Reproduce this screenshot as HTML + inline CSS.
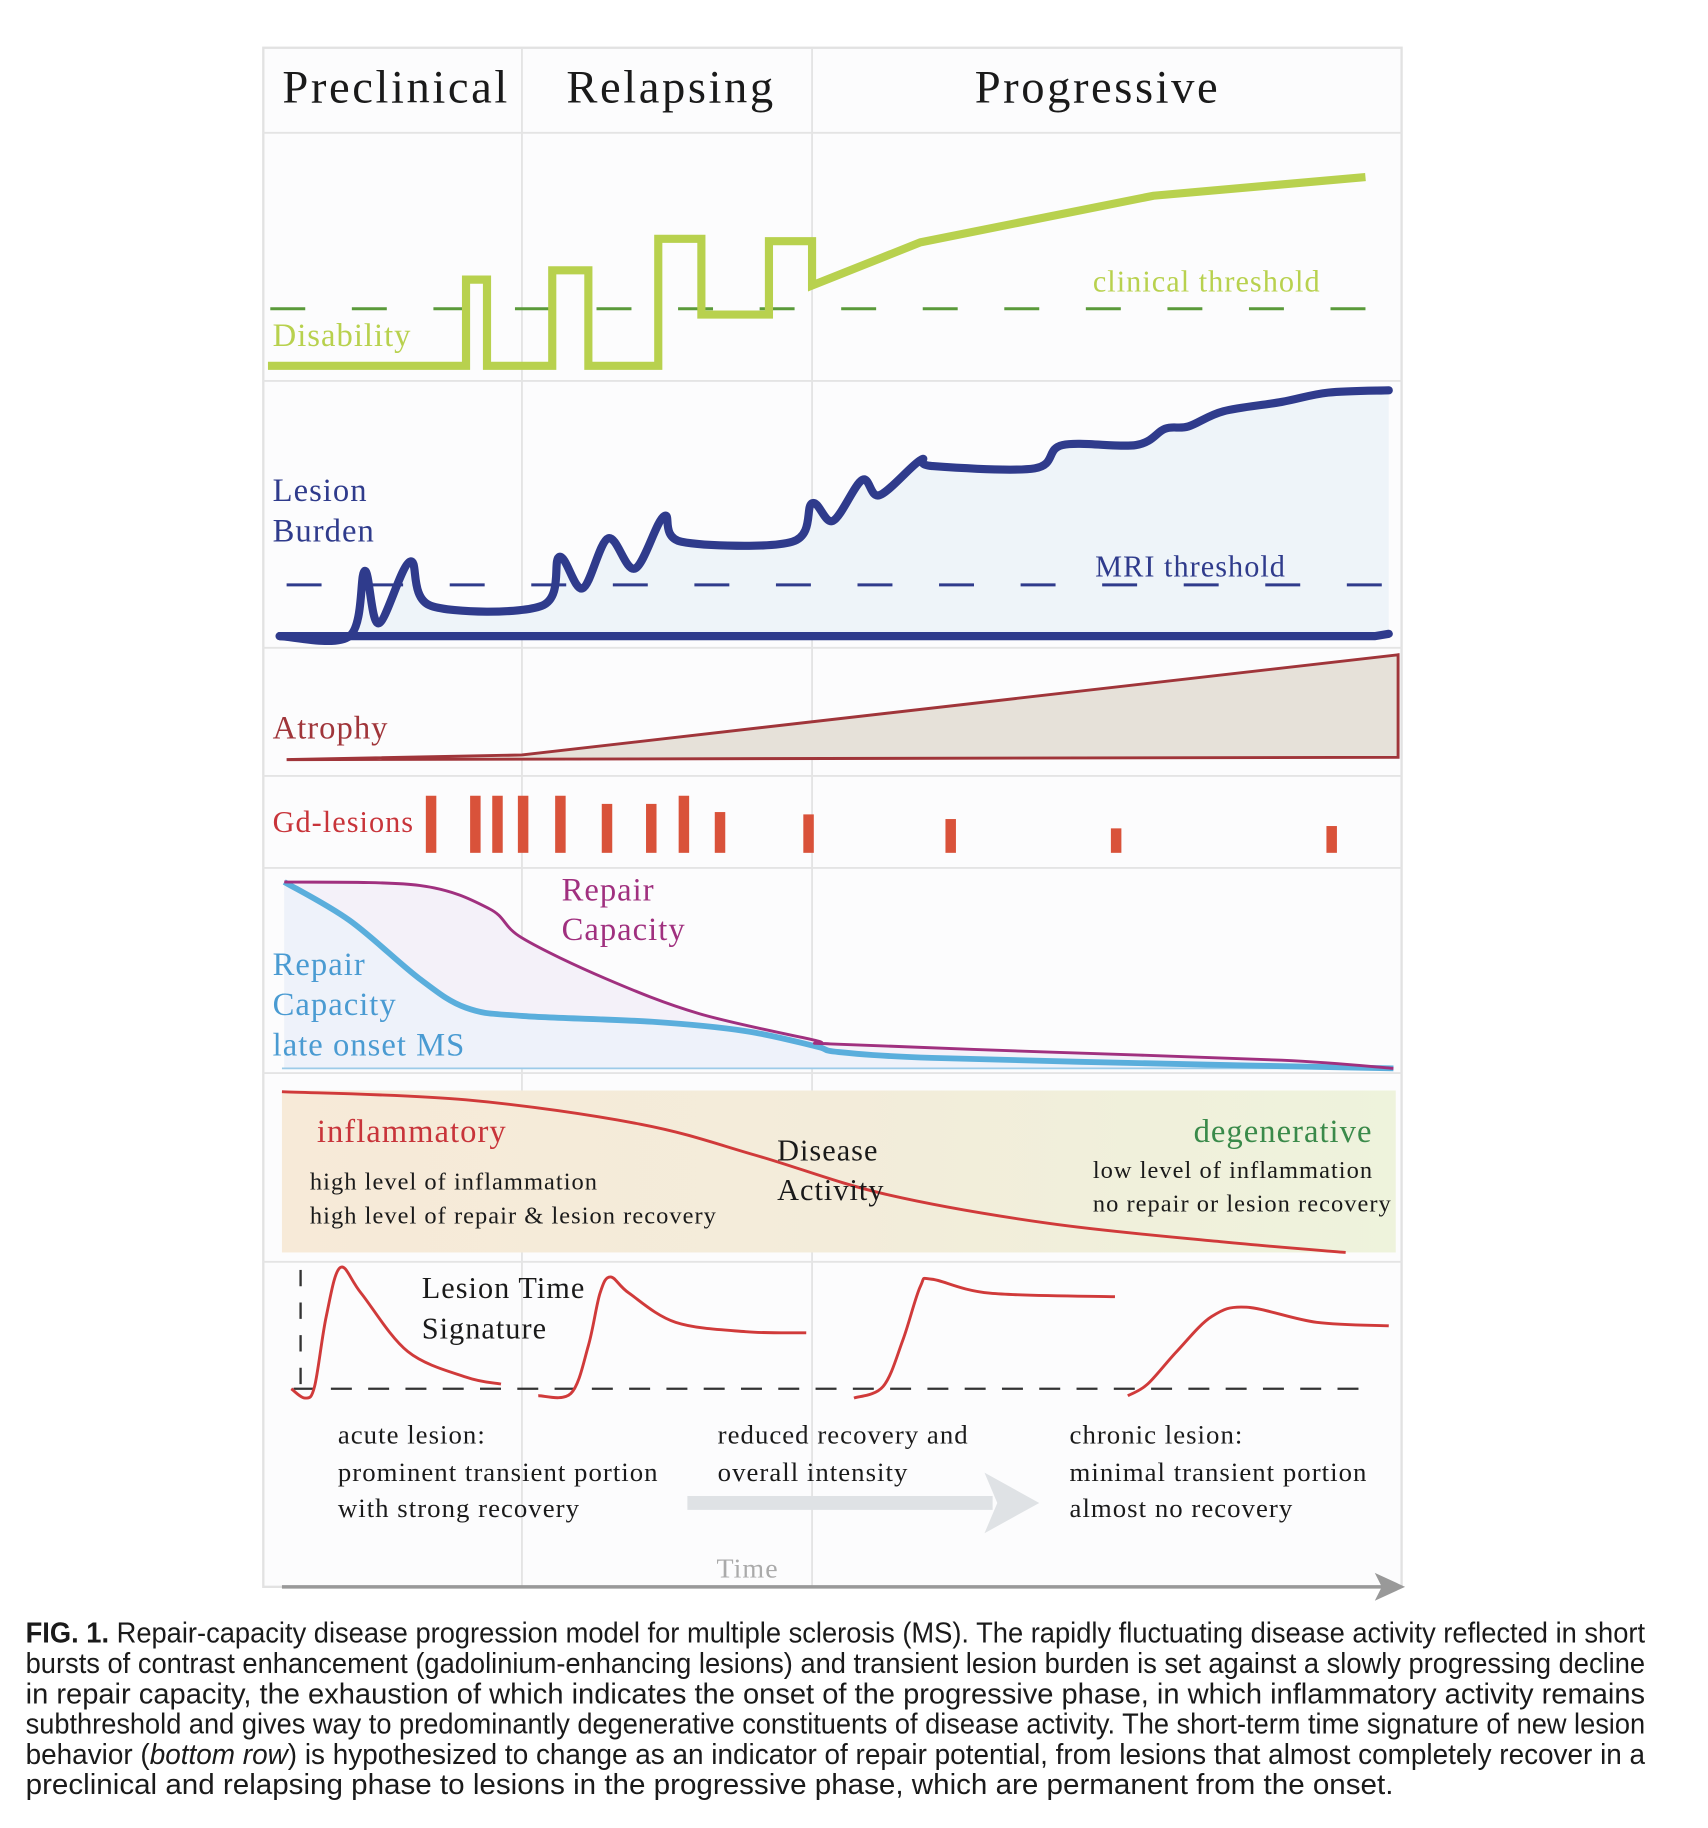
<!DOCTYPE html>
<html><head><meta charset="utf-8"><style>
html,body{margin:0;padding:0;background:#fff;}
svg{display:block;}
.serif{font-family:"Liberation Serif",serif;letter-spacing:0.055em;}
.sans{font-family:"Liberation Sans",sans-serif;}
</style></head><body>
<svg id="fig" xmlns="http://www.w3.org/2000/svg" width="1708" height="1828" viewBox="0 0 1466 1569" preserveAspectRatio="none">
<defs>
<linearGradient id="actGrad" x1="0" x2="1" y1="0" y2="0">
<stop offset="0" stop-color="#f7ead8"/><stop offset="0.5" stop-color="#f3ecda"/><stop offset="1" stop-color="#eef3dc"/>
</linearGradient>
</defs>
<rect x="226" y="41" width="977" height="1321" fill="#fcfcfd" stroke="#e2e2e2" stroke-width="2"/>
<g stroke="#e4e4e4" stroke-width="1.6">
<line x1="448" y1="41" x2="448" y2="1362"/><line x1="697" y1="41" x2="697" y2="1362"/>
<line x1="226" y1="114" x2="1203" y2="114"/><line x1="226" y1="327" x2="1203" y2="327"/>
<line x1="226" y1="556" x2="1203" y2="556"/><line x1="226" y1="666" x2="1203" y2="666"/>
<line x1="226" y1="745" x2="1203" y2="745"/><line x1="226" y1="921" x2="1203" y2="921"/>
<line x1="226" y1="1083" x2="1203" y2="1083"/>
</g>
<g class="serif" font-size="40" fill="#1a1a1a" text-anchor="middle">
<text x="340" y="88">Preclinical</text>
<text x="576" y="88">Relapsing</text>
<text x="942" y="88">Progressive</text>
</g>
<g id="marks"></g>
<g class="serif">
<text x="234" y="297" font-size="28" fill="#b8d14e">Disability</text>
<text x="938" y="250" font-size="26" fill="#b8d14e">clinical threshold</text>
<text x="234" y="430" font-size="28" fill="#2f3b8c">Lesion</text>
<text x="234" y="465" font-size="28" fill="#2f3b8c">Burden</text>
<text x="940" y="495" font-size="26" fill="#2f3b8c">MRI  threshold</text>
<text x="234" y="634" font-size="28" fill="#a0353a">Atrophy</text>
<text x="234" y="714" font-size="26" fill="#c8343a">Gd-lesions</text>
<text x="482" y="773" font-size="28" fill="#a0307f">Repair</text>
<text x="482" y="807" font-size="28" fill="#a0307f">Capacity</text>
<text x="234" y="837" font-size="28" fill="#4a9bd2">Repair</text>
<text x="234" y="871" font-size="28" fill="#4a9bd2">Capacity</text>
<text x="234" y="906" font-size="28" fill="#4a9bd2">late onset MS</text>
<text x="272" y="980" font-size="28" fill="#c8343a">inflammatory</text>
<text x="266" y="1021" font-size="21" fill="#1a1a1a">high level of inflammation</text>
<text x="266" y="1050" font-size="21" fill="#1a1a1a">high level of repair &amp; lesion recovery</text>
<text x="667" y="996" font-size="26" fill="#1a1a1a">Disease</text>
<text x="667" y="1030" font-size="26" fill="#1a1a1a">Activity</text>
<text x="1178" y="980" font-size="28" fill="#3a8a4a" text-anchor="end">degenerative</text>
<text x="938" y="1011" font-size="21" fill="#1a1a1a">low level of inflammation</text>
<text x="938" y="1040" font-size="21" fill="#1a1a1a">no repair or lesion recovery</text>
<text x="362" y="1114" font-size="26" fill="#1a1a1a">Lesion Time</text>
<text x="362" y="1149" font-size="26" fill="#1a1a1a">Signature</text>
<g font-size="23" fill="#1a1a1a">
<text x="290" y="1239">acute lesion:</text>
<text x="290" y="1271">prominent transient portion</text>
<text x="290" y="1302">with strong recovery</text>
<text x="616" y="1239">reduced recovery and</text>
<text x="616" y="1271">overall intensity</text>
<text x="918" y="1239">chronic lesion:</text>
<text x="918" y="1271">minimal transient portion</text>
<text x="918" y="1302">almost no recovery</text>
</g>
<text x="615" y="1354" font-size="24" fill="#aaaaaa">Time</text>
</g>
<g>
<line x1="590" y1="1290" x2="852" y2="1290" stroke="#dfe2e5" stroke-width="12"/>
<polygon points="845,1264 892,1290 845,1316 856,1290" fill="#dfe2e5"/>
</g>
<g>
<line x1="242" y1="1362" x2="1190" y2="1362" stroke="#999" stroke-width="3"/>
<polygon points="1180,1350 1206,1362 1180,1374 1186,1362" fill="#999"/>
</g>
<g class="sans" font-size="24.5" fill="#1a1a1a">
<text x="22" y="1410" textLength="1390" lengthAdjust="spacingAndGlyphs"><tspan font-weight="bold">FIG. 1.</tspan>  Repair-capacity disease progression model for multiple sclerosis (MS). The rapidly fluctuating disease activity reflected in short</text>
<text x="22" y="1436" textLength="1390" lengthAdjust="spacingAndGlyphs">bursts of contrast enhancement (gadolinium-enhancing lesions) and transient lesion burden is set against a slowly progressing decline</text>
<text x="22" y="1462" textLength="1390" lengthAdjust="spacingAndGlyphs">in repair capacity, the exhaustion of which indicates the onset of the progressive phase, in which inflammatory activity remains</text>
<text x="22" y="1488" textLength="1390" lengthAdjust="spacingAndGlyphs">subthreshold and gives way to predominantly degenerative constituents of disease activity. The short-term time signature of new lesion</text>
<text x="22" y="1514" textLength="1390" lengthAdjust="spacingAndGlyphs">behavior (<tspan font-style="italic">bottom row</tspan>) is hypothesized to change as an indicator of repair potential, from lesions that almost completely recover in a</text>
<text x="22" y="1540" textLength="1174" lengthAdjust="spacingAndGlyphs">preclinical and relapsing phase to lesions in the progressive phase, which are permanent from the onset.</text>
</g>
</svg>
<script>
// time t (arbitrary units) -> x; each panel has its own value scale
const disT = [0,170,170,188,188,244,244,275,275,335,335,372,372,430,430,467,467,560,760,942];
const disV = [0,0,74,74,0,0,82,82,0,0,109,109,44,44,107,107,69,106,146,162];
const disThreshold = 49;
const lesT = [10,70,83,95,122,140,235,250,270,292,315,340,355,450,467,485,510,525,560,570,658,682,745,770,790,820,870,910,962];
const lesV = [0,0,56,11,64,26,26,68,41,84,58,103,81,81,114,99,134,121,151,146,144,164,164,178,180,193,201,209,211];
const lesBase = [0,0,0,0,0,2];
const lesBaseT = [10,300,600,900,950,962];
const lesThreshold = 44;
const atrT = [16,218,970,970];
const atrV = [0,4,90,2];
const gdT = [140,178,197,219,251,291,329,357,388,464,586,728,913];
const gdH = [49,49,49,49,49,42,42,49,35,33,29,21,23];
const repT = [14,130,190,218,290,370,470,483,670,870,966];
const repV = [160,157,137,112,77,47,24,21,14,7,0];
const lateT = [14,70,130,170,218,330,410,470,490,570,770,966];
const lateV = [160,127,77,52,45,40,32,19,14,9,4,0];
const actT = [12,170,320,420,530,670,820,925];
const actV = [138,131,110,83,50,25,9,0];
const sig1T = [20,32,40,50,62,80,120,170,200];
const sig1V = [0,-8,2,62,104,82,32,10,4];
const sig2T = [232,260,275,285,294,310,350,410,462];
const sig2V = [-6,-4,37,82,96,82,57,49,48];
const sig3T = [503,528,545,560,570,620,727];
const sig3V = [-8,2,42,88,94,82,79];
const sig4T = [738,755,780,810,840,900,962];
const sig4V = [-6,4,32,62,70,57,54];

const xS = t => 230 + t;
const yDis = v => 314 - v;
const yLes = v => 546 - v;
const yAtr = v => 652 - v;
const yGd = v => 732 - v;
const yRep = v => 917 - v;
const yAct = v => 1075 - v;
const ySig = v => 1192 - v;

const NS = 'http://www.w3.org/2000/svg';
const marks = document.getElementById('marks');
function mk(tag, attrs){const e=document.createElementNS(NS,tag);for(const k in attrs)e.setAttribute(k,attrs[k]);return e;}
function pts(T,V,ys){return T.map((t,i)=>[xS(t),ys(V[i])]);}
function smooth(p){let d='M'+p[0][0]+','+p[0][1];for(let i=0;i<p.length-1;i++){const p0=p[i-1]||p[i],p1=p[i],p2=p[i+1],p3=p[i+2]||p2;const c1=[p1[0]+(p2[0]-p0[0])/6,p1[1]+(p2[1]-p0[1])/6],c2=[p2[0]-(p3[0]-p1[0])/6,p2[1]-(p3[1]-p1[1])/6];d+=' C'+c1.join(',')+' '+c2.join(',')+' '+p2.join(',');}return d;}
function poly(p){return 'M'+p.map(q=>q.join(',')).join(' L');}

// Disability
let e = mk('line',{x1:xS(2),x2:xS(942),y1:yDis(disThreshold),y2:yDis(disThreshold),stroke:'#5a9a3a','stroke-width':2.5,'stroke-dasharray':'30 40'});


marks.appendChild(e);
e = mk('path',{d:poly(pts(disT,disV,yDis)),fill:'none',stroke:'#b8d14e','stroke-width':7,'stroke-linejoin':'miter'});


marks.appendChild(e);

// Lesion burden
const lp = pts(lesT,lesV,yLes);
const lb = pts(lesBaseT,lesBase,yLes);
e = mk('path',{d:smooth(lp)+' L'+lb.slice().reverse().map(q=>q.join(',')).join(' L')+' Z',fill:'#eef4f9',stroke:'none'});


marks.appendChild(e);
e = mk('line',{x1:xS(16),x2:xS(956),y1:yLes(lesThreshold),y2:yLes(lesThreshold),stroke:'#2f3b8c','stroke-width':2.5,'stroke-dasharray':'30 40'});


marks.appendChild(e);
e = mk('path',{d:poly(lb),fill:'none',stroke:'#2f3b8c','stroke-width':7,'stroke-linecap':'round'});


marks.appendChild(e);
e = mk('path',{d:smooth(lp),fill:'none',stroke:'#2f3b8c','stroke-width':7,'stroke-linecap':'round'});


marks.appendChild(e);

// Atrophy
e = mk('path',{d:poly(pts(atrT,atrV,yAtr))+' L'+xS(atrT[0])+','+yAtr(0)+' Z',fill:'#e6e1d9',stroke:'#a0353a','stroke-width':2.5});


marks.appendChild(e);

// Gd lesions
gdT.forEach((t,i)=>{
  const b = mk('rect',{x:xS(t)-4.5,y:yGd(gdH[i]),width:9,height:gdH[i],fill:'#d9523a'});
  
  
  marks.appendChild(b);
});

// Repair capacity
const rp = pts(repT,repV,yRep), lp2 = pts(lateT,lateV,yRep);
e = mk('path',{d:smooth(rp)+' L'+xS(lateT[0])+','+yRep(0)+' Z',fill:'#f4f1f9'});


marks.appendChild(e);
e = mk('path',{d:smooth(lp2)+' L'+xS(lateT[0])+','+yRep(0)+' Z',fill:'#eef2fa'});


marks.appendChild(e);
e = mk('line',{x1:xS(12),x2:xS(966),y1:yRep(0),y2:yRep(0),stroke:'#9ccbe8','stroke-width':1.5});


marks.appendChild(e);
e = mk('path',{d:smooth(lp2),fill:'none',stroke:'#5aaedc','stroke-width':5});


marks.appendChild(e);
e = mk('path',{d:smooth(rp),fill:'none',stroke:'#a0307f','stroke-width':2.5});


marks.appendChild(e);

// Disease activity
e = mk('rect',{x:xS(12),y:936,width:956,height:139,fill:'url(#actGrad)'});


marks.insertBefore(e, marks.firstChild);
e = mk('path',{d:smooth(pts(actT,actV,yAct)),fill:'none',stroke:'#d03a3a','stroke-width':2.5});


marks.appendChild(e);

// Lesion time signature
e = mk('line',{x1:xS(22),x2:xS(942),y1:ySig(0),y2:ySig(0),stroke:'#333','stroke-width':2,'stroke-dasharray':'18 14'});


marks.appendChild(e);
e = mk('line',{x1:xS(28),x2:xS(28),y1:ySig(102),y2:ySig(0),stroke:'#333','stroke-width':2,'stroke-dasharray':'14 14'});


marks.appendChild(e);
[[sig1T,sig1V,'acute-lesion-curve'],[sig2T,sig2V,'relapsing-lesion-curve'],[sig3T,sig3V,'reduced-lesion-curve'],[sig4T,sig4V,'chronic-lesion-curve']].forEach(s=>{
  const c = mk('path',{d:smooth(pts(s[0],s[1],ySig)),fill:'none',stroke:'#d03a3a','stroke-width':2.5});
  
  
  marks.appendChild(c);
});
</script>
</body></html>
